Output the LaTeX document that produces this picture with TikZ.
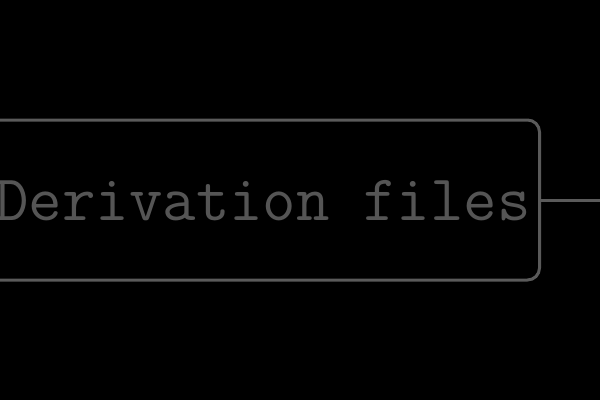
\documentclass[tikz,border=0pt]{standalone}
\begin{document}
\begin{tikzpicture}[x=1pt,y=-1pt,
  boxline/.style={draw=gray50, line width=3pt, rounded corners=12pt},
  lbl/.style={text=gray55, font=\ttfamily\fontsize{65}{65}\selectfont, inner sep=0pt}]
\definecolor{gray50}{HTML}{5A5A5A}
\definecolor{gray55}{HTML}{555555}
\fill[black] (0,0) rectangle (600,400);
\useasboundingbox (0,0) rectangle (600,400);
\node[boxline, minimum width=580pt, minimum height=160pt, anchor=east] (box) at (541,200) {};
\node[lbl, anchor=base west] (t) at (-5,220) {Derivation files};
\coordinate (out) at (600,200);
\draw[gray50, line width=3pt] (box.east) -- (out);
\end{tikzpicture}
\end{document}
